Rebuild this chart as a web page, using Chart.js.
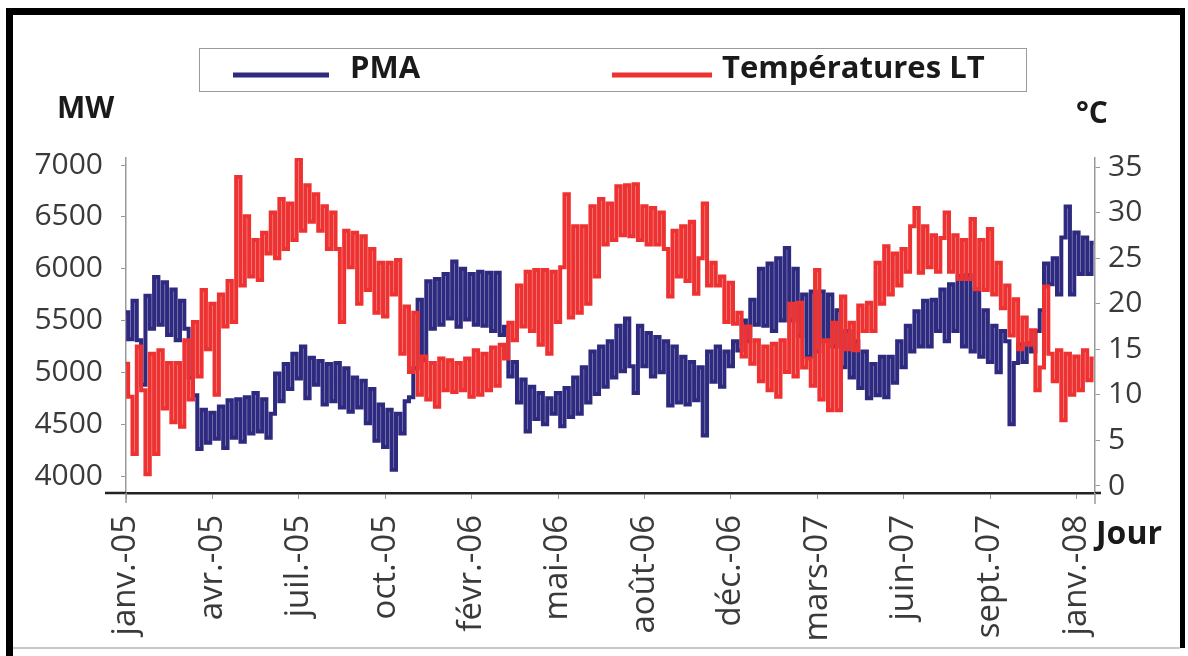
<!DOCTYPE html>
<html lang="fr">
<head>
    <meta charset="UTF-8">
    <title>PMA et Températures LT</title>
    <script src="https://cdn.jsdelivr.net/npm/chart.js@4"></script>
    <style>
        html, body { margin: 0; padding: 0; background: #fff; }
    </style>
</head>
<body>
    <canvas id="pmaChart" width="1188" height="656"></canvas>

    <script>
        // day 0 = 1 Jan 2005, one reading every 5 days
        const dayStep = 5;

        // x tick every 100 days
        const tickLabels = ['janv.-05', 'avr.-05', 'juil.-05', 'oct.-05', 'févr.-06', 'mai-06',
                            'août-06', 'déc.-06', 'mars-07', 'juin-07', 'sept.-07', 'janv.-08'];
        const mwTicks = [4000, 4500, 5000, 5500, 6000, 6500, 7000];
        const tempTicks = [0, 5, 10, 15, 20, 25, 30, 35];

        // PMA (MW)
        const pma = [
            5580, 5320, 5690, 5310, 4880, 5740, 5420, 5920, 5460, 5870, 5360, 5800, 5310, 5690, 5420, 4950, 4780, 4260, 4640, 4320,
            4610, 4360, 4670, 4270, 4730, 4370, 4740, 4330, 4760, 4410, 4800, 4430, 4740, 4370, 4600, 4990, 4720, 5080, 4840, 5180,
            4940, 5250, 4750, 5140, 4880, 5110, 4690, 5080, 4720, 5090, 4660, 5040, 4620, 4950, 4660, 4920, 4510, 4840, 4340, 4690,
            4280, 4640, 4060, 4600, 4410, 4720, 4760, 5040, 5700, 5120, 5880, 5420, 5900, 5460, 5950, 5520, 6070, 5440, 6000, 5510,
            5950, 5460, 5970, 5450, 5960, 5400, 5960, 5360, 5440, 4960, 5100, 4710, 4930, 4430, 4860, 4550, 4800, 4500, 4750, 4600,
            4800, 4480, 4850, 4570, 4950, 4600, 5050, 4710, 5200, 4790, 5250, 4860, 5300, 4950, 5450, 5010, 5520, 5060, 4800, 5450,
            5060, 5380, 4960, 5340, 5000, 5300, 4680, 5250, 4710, 5150, 4690, 5100, 4730, 5050, 4390, 5200, 4910, 5250, 4860, 5200,
            5060, 5300, 5210, 5500, 5300, 5700, 5460, 6000, 5450, 6050, 5400, 6100, 5500, 6200, 5500, 6000, 5350, 5750, 5150, 5780,
            5200, 5780, 5300, 5750, 5250, 5600, 5050, 5400, 4950, 5300, 4850, 5200, 4750, 5080, 4780, 5150, 4760, 5150, 4900, 5300,
            5050, 5450, 5200, 5590, 5250, 5690, 5250, 5700, 5400, 5800, 5300, 5850, 5400, 5930, 5250, 5940, 5200, 5800, 5150, 5600,
            5100, 5450, 5000, 5400, 5300, 4500, 5090, 5270, 5100, 5280, 5200, 5400, 5600, 6050, 5850, 6100, 5750, 6300, 6600, 5750,
            6350, 5950, 6300, 5950, 6250
        ];

        // Températures LT (°C)
        const temperatures = [
            13.4, 9.8, 3.5, 15.3, 10.5, 1.3, 14.5, 3.5, 14.9, 8.5, 13.5, 7.0, 13.5, 6.5, 16.0, 9.5, 18.0, 12.0, 21.5, 15.0,
            20.0, 10.0, 21.0, 17.5, 22.5, 18.0, 33.9, 22.0, 29.6, 23.0, 27.0, 22.6, 27.8, 25.5, 30.0, 25.0, 31.5, 26.0, 31.0, 27.0,
            35.9, 28.0, 33.0, 29.0, 32.0, 28.0, 30.7, 26.0, 30.0, 26.0, 18.0, 28.0, 24.0, 27.8, 20.0, 27.4, 21.5, 26.0, 19.0, 24.5,
            18.6, 24.5, 21.0, 24.8, 14.5, 19.7, 12.5, 19.0, 10.0, 14.2, 9.5, 13.5, 8.7, 14.0, 10.5, 13.8, 10.3, 13.5, 10.5, 14.0,
            9.8, 14.9, 10.0, 14.5, 10.5, 15.2, 11.0, 15.5, 14.0, 17.9, 16.0, 22.0, 17.5, 23.5, 17.0, 23.7, 15.5, 23.7, 14.5, 23.5,
            18.0, 24.0, 32.0, 18.5, 28.5, 19.0, 28.5, 20.0, 30.7, 23.0, 31.5, 26.5, 31.0, 27.0, 32.9, 27.5, 33.0, 27.4, 33.1, 27.0,
            30.7, 26.5, 30.5, 26.5, 30.0, 26.0, 20.8, 28.0, 23.0, 28.5, 22.5, 29.0, 21.1, 25.0, 31.0, 22.0, 24.5, 22.0, 23.0, 18.0,
            22.3, 17.8, 19.0, 14.2, 17.5, 13.4, 16.0, 11.5, 15.3, 10.5, 15.6, 9.8, 16.0, 12.5, 20.0, 12.0, 20.1, 13.0, 14.0, 11.0,
            23.7, 9.5, 16.0, 8.3, 17.9, 8.3, 20.8, 15.0, 17.9, 14.9, 19.8, 17.0, 20.1, 17.0, 24.5, 20.0, 26.3, 21.0, 25.5, 22.0,
            26.0, 23.5, 28.5, 30.5, 23.4, 28.5, 24.0, 27.5, 23.5, 27.2, 30.0, 23.5, 27.5, 22.7, 27.0, 22.7, 29.3, 21.6, 27.0, 21.5,
            28.2, 21.0, 24.5, 19.5, 22.0, 16.5, 20.5, 15.0, 18.5, 15.5, 17.1, 10.5, 13.0, 21.9, 14.5, 11.5, 14.9, 7.2, 14.5, 10.0,
            14.2, 10.5, 14.9, 11.6, 14.0
        ];

        const toPoints = arr => arr.map((v, i) => ({ x: i * dayStep, y: v }));

        const tickFont = { family: 'Open Sans', size: 30 };
        const tickColor = '#3a3a3a';

        // frame, legend box and axis titles
        const decor = {
            id: 'decor',
            beforeDraw(chart) {
                const ctx = chart.ctx;
                ctx.save();
                ctx.fillStyle = '#fff';
                ctx.fillRect(0, 0, chart.width, chart.height);
                ctx.restore();
            },
            afterDraw(chart) {
                const { ctx, chartArea: a } = chart;
                ctx.save();

                // axis line extensions
                ctx.strokeStyle = '#222';
                ctx.lineWidth = 2.5;
                ctx.beginPath();
                ctx.moveTo(105, a.bottom); ctx.lineTo(a.left, a.bottom);
                ctx.moveTo(a.right, a.bottom); ctx.lineTo(1101, a.bottom);
                ctx.stroke();
                ctx.strokeStyle = '#999';
                ctx.lineWidth = 1.5;
                ctx.beginPath();
                ctx.moveTo(a.left, a.bottom); ctx.lineTo(a.left, a.bottom + 10);
                ctx.moveTo(a.right, a.bottom); ctx.lineTo(a.right, a.bottom + 11);
                ctx.stroke();

                // legend
                const ds = chart.data.datasets;
                ctx.strokeStyle = '#9a9a9a';
                ctx.lineWidth = 1;
                ctx.strokeRect(199.5, 48.5, 827, 43);
                ctx.lineWidth = 5;
                ctx.strokeStyle = ds[0].borderColor;
                ctx.beginPath(); ctx.moveTo(233, 75); ctx.lineTo(329, 75); ctx.stroke();
                ctx.strokeStyle = ds[1].borderColor;
                ctx.beginPath(); ctx.moveTo(612, 75); ctx.lineTo(712, 75); ctx.stroke();
                ctx.fillStyle = '#1a1a1a';
                ctx.font = 'bold 31px "Open Sans"';
                ctx.textBaseline = 'alphabetic';
                ctx.textAlign = 'left';
                ctx.fillText(ds[0].label, 350, 78);
                ctx.fillText(ds[1].label, 722, 78);

                // axis titles
                ctx.font = 'bold 30px "Open Sans"';
                ctx.fillText('MW', 57, 118);
                ctx.fillText('°C', 1076, 123);
                ctx.font = 'bold 32px "Open Sans"';
                ctx.fillText('Jour', 1096, 544);

                // black frame
                ctx.fillStyle = '#000';
                ctx.fillRect(6, 8, 1179, 7);
                ctx.fillRect(6, 8, 7, 648);
                ctx.fillRect(1180, 8, 5, 640);
                ctx.fillStyle = '#c8c8c8';
                ctx.fillRect(13, 647, 1167, 2);
                ctx.restore();
            }
        };

        const ctx = document.getElementById('pmaChart').getContext('2d');
        new Chart(ctx, {
            type: 'line',
            data: {
                datasets: [{
                    label: 'PMA',
                    data: toPoints(pma),
                    yAxisID: 'yMW',
                    borderColor: '#2e2a7f',
                    borderWidth: 4,
                    stepped: 'middle',
                    pointRadius: 0,
                    order: 1
                }, {
                    label: 'Températures LT',
                    data: toPoints(temperatures),
                    yAxisID: 'yT',
                    borderColor: '#ee3131',
                    borderWidth: 4,
                    stepped: 'middle',
                    pointRadius: 0,
                    order: 0
                }]
            },
            options: {
                responsive: false,
                animation: false,
                layout: { padding: { left: 10, right: 23, top: 158, bottom: 0 } },
                plugins: {
                    legend: { display: false },
                    tooltip: { enabled: false }
                },
                scales: {
                    x: {
                        type: 'linear',
                        min: 0,
                        max: 1121.5,
                        afterBuildTicks: s => { s.ticks = tickLabels.map((_, i) => ({ value: i * 100 })); },
                        afterFit: s => { s.height = 163; },
                        ticks: {
                            callback: (v, i) => tickLabels[i],
                            minRotation: 90,
                            maxRotation: 90,
                            padding: 16,
                            font: { family: 'Open Sans', size: 33 },
                            color: tickColor
                        },
                        grid: { drawOnChartArea: false, tickLength: 6, color: '#999' },
                        border: { color: '#222', width: 2.5 }
                    },
                    yMW: {
                        position: 'left',
                        min: 3836,
                        max: 7068,
                        afterBuildTicks: s => { s.ticks = mwTicks.map(v => ({ value: v })); },
                        afterFit: s => { s.width = 116; },
                        ticks: { callback: v => String(v), font: tickFont, color: tickColor, padding: 18 },
                        grid: { drawOnChartArea: false, tickLength: 5, color: '#999' },
                        border: { color: '#999', width: 1.5 }
                    },
                    yT: {
                        position: 'right',
                        min: -0.77,
                        max: 35.99,
                        afterBuildTicks: s => { s.ticks = tempTicks.map(v => ({ value: v })); },
                        afterFit: s => { s.width = 70; },
                        ticks: { callback: v => String(v), font: tickFont, color: tickColor, padding: 8 },
                        grid: { drawOnChartArea: false, tickLength: 5, color: '#999' },
                        border: { color: '#999', width: 1.5 }
                    }
                }
            },
            plugins: [decor]
        });
    </script>
</body>
</html>
